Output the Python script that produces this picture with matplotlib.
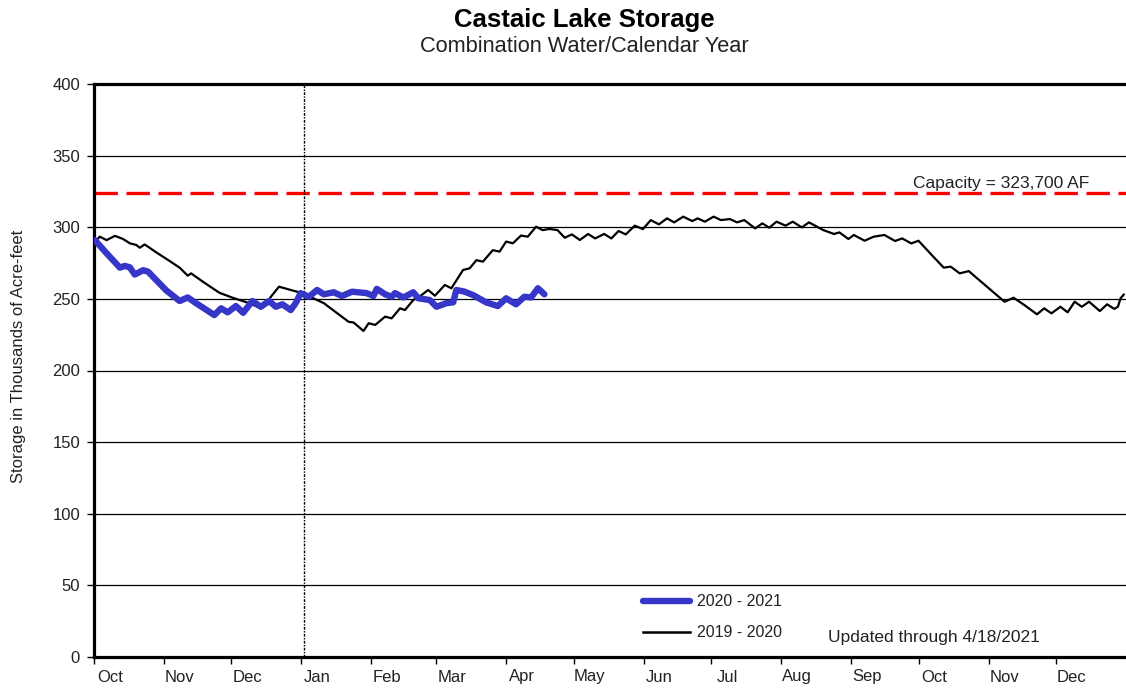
import numpy as np
from matplotlib import pyplot as plt

plt.rcParams['font.family'] = ['Liberation Sans', 'DejaVu Sans']

# Month layout of the combination water/calendar year (Oct through Dec of next year)
month_names = ['Oct', 'Nov', 'Dec', 'Jan', 'Feb', 'Mar', 'Apr', 'May', 'Jun',
               'Jul', 'Aug', 'Sep', 'Oct', 'Nov', 'Dec']
month_days = [31, 30, 31, 31, 29, 31, 30, 31, 30, 31, 31, 30, 31, 30, 31]

capacity = 323.7  # thousand AF

# 2020 - 2021 season (days since Oct 1, storage in thousand AF)
days_2021 = [0.4, 5.6, 11.5, 13.7, 15.9, 18.1, 21.8, 24, 32, 38, 41.6, 45.3, 53.4, 56.4,
             59.3, 63, 66.2, 70.3, 74, 77.7, 80.7, 83.6, 87.3, 89.5, 91.7, 95.4, 99, 102,
             106.4, 110, 114.5, 121, 124, 125.5, 129.2, 132.1, 133.6, 137.3, 141.7, 143.9,
             149, 152, 156.4, 159.4, 160.8, 164.5, 168.2, 174, 179.2, 182.9, 187.3, 191,
             194, 197, 199.9]
storage_2021 = [291, 281.8, 271.8, 273, 272, 267, 270, 269, 256, 248.5, 251, 247, 238.7, 243.4,
                240.6, 245, 240.3, 248.5, 244.5, 248.5, 244.5, 246.2, 242.2, 247, 254, 251.5,
                256.2, 253.2, 254.6, 252, 255, 254, 252, 257, 253.2, 251.5, 254, 251, 254.6,
                250.4, 249.2, 244.5, 247, 247.6, 256.2, 255, 252.7, 247.6, 245, 250.4, 246.2,
                251.5, 251, 257.4, 253.2]

# 2019 - 2020 season
days_2020 = [0.4, 2.6, 5.6, 9.3, 12.9, 15.9, 18.8, 20.3, 22.5, 27.6, 33.6, 38, 41.6, 43.1,
             48.3, 55.6, 61.5, 68.9, 72.5, 74.7, 76.2, 78.5, 82.1, 92.4, 102, 113, 115.2,
             119.6, 121.9, 124.8, 129.2, 132.1, 135.8, 138, 141.7, 145.4, 148.3, 151.3,
             155.7, 158.6, 163.8, 166.7, 169.7, 172.6, 177, 180, 182.9, 185.9, 189.5, 192.5,
             196.2, 199.1, 202.1, 205.7, 208.9, 212.1, 215.6, 219.3, 222.4, 226.4, 229.6,
             232.8, 236.0, 240.0, 243.6, 247.1, 250.7, 254.3, 257.5, 261.5, 265.5, 267.9,
             271.1, 275.0, 278.2, 282.2, 285.4, 288.6, 293.4, 296.6, 299.7, 302.9, 306.9,
             310.1, 314.1, 317.3, 323.7, 328.4, 330.8, 334.8, 337.2, 342.0, 346.0, 350.8,
             355.5, 358.7, 362.7, 365.9, 371.5, 377.1, 380.2, 384.2, 388.2, 395.4, 404.1,
             408.1, 412.9, 418.5, 421.7, 424.9, 428.9, 432.1, 435.2, 438.4, 441.6, 446.4,
             449.6, 452.8, 454.4, 455.6, 457]
storage_2020 = [290, 293.4, 291, 294, 291.8, 288.8, 287.6, 285.7, 288, 282.5, 276.4, 271.8,
                266.2, 267.8, 262, 254.3, 250.8, 247, 244.5, 246.2, 245.7, 251.5, 258.5, 254,
                247, 234, 233.5, 227.6, 233, 231.8, 237.6, 236.4, 243.4, 242.2, 249.2, 252.7,
                256.2, 252.2, 259.7, 257.4, 270.2, 271.3, 277, 276, 284, 283, 290, 288.8,
                294.2, 293.4, 300.4, 298, 298.8, 298.0, 292.7, 295.0, 291.1, 295.3, 292.2,
                295.3, 292.2, 297.4, 295.0, 301.1, 298.7, 305.0, 302.0, 306.2, 303.4, 307.4,
                304.3, 306.2, 303.9, 307.4, 305.0, 305.7, 303.4, 305.0, 299.2, 302.7, 299.7,
                303.9, 301.1, 303.9, 299.9, 303.4, 298.0, 295.3, 296.4, 291.8, 294.6, 290.6,
                293.4, 294.6, 290.4, 292.2, 288.7, 290.6, 281.1, 271.8, 272.5, 267.8, 269.4,
                259.7, 248.0, 250.8, 245.7, 239.2, 243.4, 239.9, 244.5, 240.6, 248.0, 244.5,
                248.0, 241.5, 246.2, 243.0, 244.5, 250.4, 253]

month_starts = np.concatenate([[0], np.cumsum(month_days)[:-1]])
total_days = sum(month_days)

fig = plt.figure(figsize=(11.26, 6.9), dpi=100)
ax = fig.add_axes([94 / 1126, 33 / 690, 1032 / 1126, 573 / 690])

# Grid and reference lines
for y in np.arange(50, 400, 50):
    ax.axhline(y, color='black', lw=0.9, zorder=1)
ax.axhline(capacity, color='#ff0000', lw=2.4, dashes=(7, 2.6), zorder=2)
ax.axvline(month_starts[3] + 1, color='black', lw=1.0, linestyle=(0, (2, 1, 1, 1)), zorder=2)

# Series
ax.plot(days_2020, storage_2020, color='black', lw=1.6, zorder=3)
ax.plot(days_2021, storage_2021, color='#3636c8', lw=4.6, solid_capstyle='round', zorder=4)

# Axis setup
ax.set_xlim(0, total_days)
ax.set_ylim(0, 400)
ax.set_yticks(np.arange(0, 401, 50))
ax.set_xticks(month_starts)
ax.set_xticklabels([])
ax.set_xticks(month_starts + 7, minor=True)
ax.set_xticklabels(month_names, minor=True)
ax.tick_params(axis='x', which='major', direction='out', length=5, width=1)
ax.tick_params(axis='x', which='minor', length=0, pad=9, labelsize=12)
ax.tick_params(axis='y', direction='out', length=5, width=1, pad=5, labelsize=12,
               labelcolor='#222222')
ax.tick_params(axis='x', which='minor', labelcolor='#222222')
for side in ['left', 'bottom', 'top']:
    ax.spines[side].set_linewidth(2.3)
ax.spines['right'].set_visible(False)

# Annotations
ax.text(0.794, capacity + 1.5, 'Capacity = 323,700 AF', transform=ax.get_yaxis_transform(),
        fontsize=12.5, color='#222222', ha='left', va='bottom')
ax.plot([0.532, 0.5775], [0.0977, 0.0977], transform=ax.transAxes, color='#3636c8', lw=4.6,
        solid_capstyle='round', clip_on=False)
ax.text(0.584, 0.0977, '2020 - 2021', transform=ax.transAxes, fontsize=11.5,
        ha='left', va='center', color='#222222')
ax.plot([0.532, 0.5775], [0.0436, 0.0436], transform=ax.transAxes, color='black', lw=1.8)
ax.text(0.584, 0.0436, '2019 - 2020', transform=ax.transAxes, fontsize=11.5,
        ha='left', va='center', color='#222222')
ax.text(0.711, 0.0332, 'Updated through 4/18/2021', transform=ax.transAxes, fontsize=12.5,
        ha='left', va='center', color='#222222')

fig.text(0.519, 0.971, 'Castaic Lake Storage', ha='center', va='center', fontsize=18.5,
         fontweight='bold')
fig.text(0.519, 0.932, 'Combination Water/Calendar Year', ha='center', va='center',
         fontsize=15.7, color='#222222')
fig.text(0.016, 0.484, 'Storage in Thousands of Acre-feet', rotation=90, ha='center',
         va='center', fontsize=12, color='#222222')

plt.savefig('out.png', dpi=100)
plt.close(fig)
